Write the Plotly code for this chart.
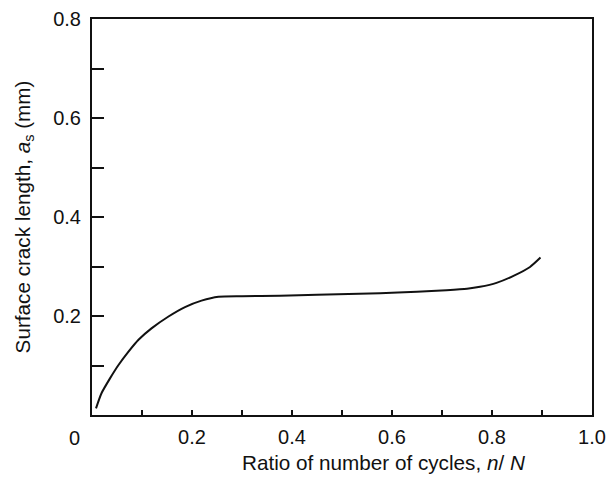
import plotly.graph_objects as go

# Data
ratio = [0.008, 0.019, 0.036, 0.053, 0.073, 0.093, 0.119, 0.153, 0.186, 0.219, 0.253,
         0.3, 0.376, 0.45, 0.576, 0.65, 0.709, 0.75, 0.776, 0.809, 0.843, 0.876, 0.897]
crack_len = [0.0135, 0.044, 0.074, 0.101, 0.128, 0.152, 0.175, 0.199, 0.218, 0.231, 0.239,
             0.240, 0.241, 0.243, 0.246, 0.249, 0.252, 0.255, 0.259, 0.267, 0.281, 0.299, 0.318]

x_tickvals = [0.1, 0.2, 0.3, 0.4, 0.5, 0.6, 0.7, 0.8, 0.9, 1.0]
x_ticktext = ["", "0.2", "", "0.4", "", "0.6", "", "0.8", "", "1.0"]
y_tickvals = [0.1, 0.2, 0.3, 0.4, 0.5, 0.6, 0.7, 0.8]
y_ticktext = ["", "0.2", "", "0.4", "", "0.6", "", "0.8"]

x_title = "Ratio of number of cycles, <i>n</i>/ <i>N</i>"
y_title = "Surface crack length, <i>a</i><sub>s</sub> (mm)"

FONT = "Liberation Sans, Arial, Helvetica, sans-serif"
INK = "#111111"
FS = 20
FT = 20.7

fig = go.Figure()
fig.add_trace(go.Scatter(
    x=ratio, y=crack_len, mode="lines",
    line=dict(color=INK, width=2, shape="spline", smoothing=0.6),
    showlegend=False, hoverinfo="skip",
))

fig.update_layout(
    width=608, height=480,
    margin=dict(l=92, r=16, t=19, b=65),
    paper_bgcolor="white", plot_bgcolor="white",
    font=dict(family=FONT, size=FS, color=INK),
    xaxis=dict(
        range=[0, 1.0], showgrid=False, zeroline=False, automargin=False,
        showline=True, linecolor=INK, linewidth=2, mirror=True,
        ticks="inside", ticklen=5, tickwidth=2, tickcolor=INK,
        tickvals=x_tickvals, ticktext=x_ticktext, ticklabelstandoff=3,
        tickfont=dict(family=FONT, size=FS, color=INK),
    ),
    yaxis=dict(
        range=[0, 0.8], showgrid=False, zeroline=False, automargin=False,
        showline=True, linecolor=INK, linewidth=2, mirror=True,
        ticks="inside", ticklen=12, tickwidth=2, tickcolor=INK,
        tickvals=y_tickvals, ticktext=y_ticktext, ticklabelstandoff=5,
        tickfont=dict(family=FONT, size=FS, color=INK),
        title=dict(text=y_title, font=dict(family=FONT, size=FT, color=INK), standoff=17),
    ),
    annotations=[
        dict(text="0", xref="paper", yref="paper", x=-0.036, y=-0.058,
             xanchor="center", yanchor="middle", showarrow=False,
             font=dict(family=FONT, size=FS, color=INK)),
        dict(text=x_title, xref="paper", yref="paper", x=0.582, y=-0.121,
             xanchor="center", yanchor="middle", showarrow=False,
             font=dict(family=FONT, size=FT, color=INK)),
    ],
)

fig.write_html("out.html", post_script="document.body.style.margin='0';",
               config={"displayModeBar": False})
